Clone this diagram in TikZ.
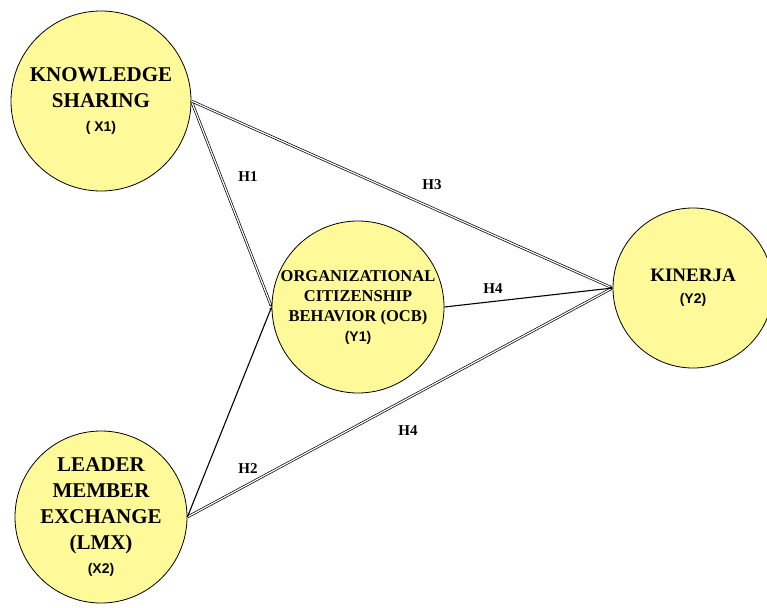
\documentclass[tikz,border=0pt]{standalone}
\usepackage{fontspec}
\setmainfont{Liberation Serif}
\setsansfont{Liberation Sans}
\usetikzlibrary{arrows.meta}

\begin{document}
\begin{tikzpicture}[x=1pt, y=-1pt,
  var/.style={draw, circle, fill=yellow!40, line width=0.8pt, align=center, inner sep=0pt},
  big/.style={font=\bfseries\fontsize{21}{26}\selectfont},
  mid/.style={font=\bfseries\fontsize{16.5}{20}\selectfont},
  dbl/.style={double, double distance=1.2pt, line width=0.7pt, -{Stealth[length=3pt,width=3pt]}},
  sgl/.style={line width=1.1pt, -{Stealth[length=3pt,width=3pt]}},
  hyp/.style={font=\bfseries\fontsize{15}{17}\selectfont}]
\useasboundingbox (0,0) rectangle (767,607);
\node[var, big, minimum size=180pt] (ks) at (101,101)
  {KNOWLEDGE\\SHARING\\[-2pt]{\sffamily\fontsize{14}{26}\selectfont ( X1)}};
\node[var, big, minimum size=172pt] (lmx) at (101,517)
  {LEADER\\MEMBER\\EXCHANGE\\(LMX)\\[-2pt]{\sffamily\fontsize{14}{26}\selectfont (X2)}};
\node[var, mid, minimum size=172pt] (ocb) at (358,307)
  {ORGANIZATIONAL\\CITIZENSHIP\\BEHAVIOR (OCB)\\{\sffamily\fontsize{14}{20}\selectfont (Y1)}};
\node[var, font=\bfseries\fontsize{19}{22}\selectfont, minimum size=160pt] (kin) at (693,288)
  {KINERJA\\{\sffamily\fontsize{14}{22}\selectfont (Y2)}};
% paths
\draw[dbl] (ks.east) -- (ocb.west);
\draw[dbl] (ks.east) -- (kin.west);
\draw[sgl] (ocb.east) -- (kin.west);
\draw[dbl] (lmx.east) -- (kin.west);
\draw[sgl] (lmx.east) -- (ocb.west);
% labels
\node[hyp] (h1) at (248,177) {H1};
\node[hyp] (h3) at (432,185) {H3};
\node[hyp] (h4a) at (493,289) {H4};
\node[hyp] (h4b) at (408,431) {H4};
\node[hyp] (h2) at (248,469) {H2};
\end{tikzpicture}
\end{document}
